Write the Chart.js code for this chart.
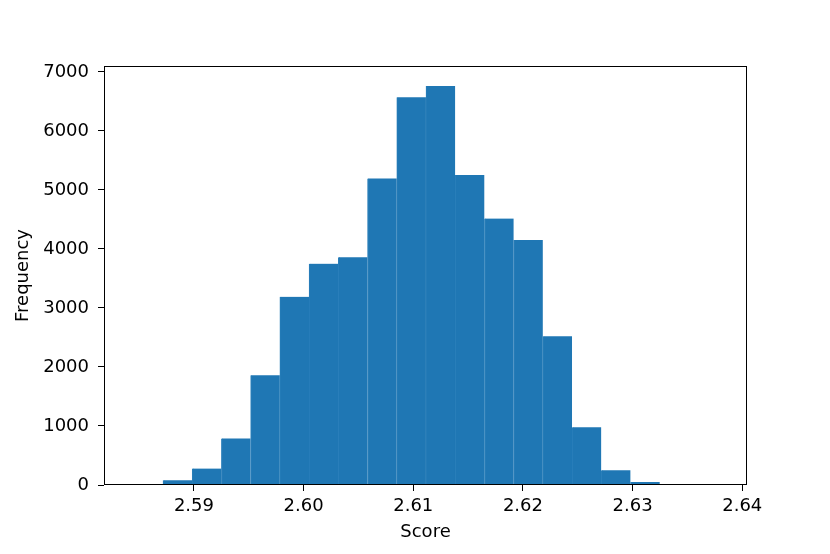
<!DOCTYPE html>
<html>
<head>
<meta charset="utf-8">
<script src="https://cdn.jsdelivr.net/npm/chart.js@4"></script>
<style>
  html, body { margin: 0; padding: 0; background: #fff; }
</style>
</head>
<body>
<canvas id="histChart" width="830" height="554"></canvas>
<script>
// histogram bin edges (score) and counts
const binEdges = [
  2.58718, 2.58984, 2.59250, 2.59517, 2.59783, 2.60050, 2.60316, 2.60583, 2.60849,
  2.61116, 2.61382, 2.61649, 2.61915, 2.62181, 2.62448, 2.62714, 2.62981, 2.63247
];
const counts = [80, 280, 790, 1860, 3190, 3750, 3860, 5195, 6570, 6760, 5255, 4515, 4150, 2520, 980, 250, 50];

const xTicks = [2.59, 2.60, 2.61, 2.62, 2.63, 2.64];
const yTicks = [0, 1000, 2000, 3000, 4000, 5000, 6000, 7000];

const barData = counts.map((c, i) => ({ x: (binEdges[i] + binEdges[i + 1]) / 2, y: c }));

const font = { family: "'DejaVu Sans', sans-serif", size: 18 };

// matplotlib style box around the plot area
const frame = {
  id: "frame",
  afterDraw(chart) {
    const { ctx, chartArea: a } = chart;
    ctx.save();
    ctx.strokeStyle = "#000";
    ctx.lineWidth = 1;
    ctx.strokeRect(Math.round(a.left) + 0.5, Math.round(a.top) + 0.5,
      Math.round(a.right - a.left) - 1, Math.round(a.bottom - a.top) - 1);
    ctx.restore();
  }
};

new Chart(document.getElementById("histChart").getContext("2d"), {
  type: "bar",
  data: {
    datasets: [{
      data: barData,
      backgroundColor: "#1f77b4",
      borderColor: "#2a7fba",
      borderWidth: { left: 1, right: 0, top: 0, bottom: 0 },
      barPercentage: 1,
      categoryPercentage: 1
    }]
  },
  options: {
    responsive: false,
    animation: false,
    devicePixelRatio: 1,
    layout: { padding: { top: 66, right: 83, left: 0, bottom: 0 } },
    plugins: { legend: { display: false }, tooltip: { enabled: false } },
    scales: {
      x: {
        type: "linear",
        offset: false,
        min: 2.5818,
        max: 2.64043,
        afterFit: s => { s.height = 69; },
        afterBuildTicks: s => { s.ticks = xTicks.map(v => ({ value: v })); },
        ticks: {
          color: "#000",
          font,
          padding: 5,
          maxRotation: 0,
          callback: v => v.toFixed(2)
        },
        grid: { offset: false, drawOnChartArea: false, drawTicks: true, tickLength: 6, color: "#000" },
        border: { display: false },
        title: { display: true, text: "Score", color: "#000", font, padding: { top: 0, bottom: 10.7 } }
      },
      y: {
        min: 0,
        max: 7100,
        afterFit: s => { s.width = 104; },
        afterBuildTicks: s => { s.ticks = yTicks.map(v => ({ value: v })); },
        ticks: { color: "#000", font, padding: 9, callback: v => String(v) },
        grid: { drawOnChartArea: false, drawTicks: true, tickLength: 6, color: "#000" },
        border: { display: false },
        title: { display: true, text: "Frequency", color: "#000", font, padding: { top: 12.7, bottom: 0 } }
      }
    }
  },
  plugins: [frame]
});
</script>
</body>
</html>
